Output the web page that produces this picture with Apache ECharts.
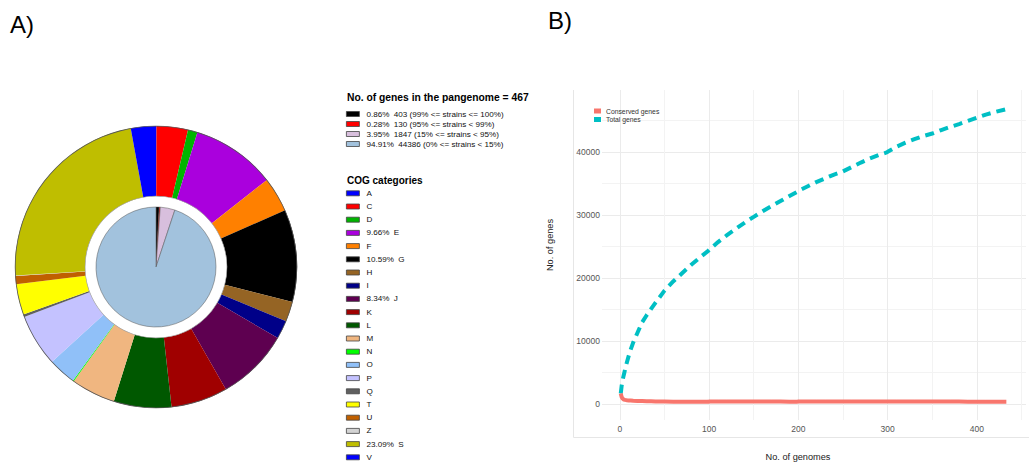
<!DOCTYPE html>
<html>
<head>
<meta charset="utf-8">
<script src="https://cdn.jsdelivr.net/npm/echarts@6/dist/echarts.min.js"></script>
<style>
  html, body { margin: 0; padding: 0; background: #ffffff; }
  #chart { width: 1029px; height: 466px; }
</style>
</head>
<body>
<div id="chart"></div>
<script>
// ---- Panel A: pangenome partitions (inner pie) and COG categories (outer ring)
const partitionBands = ['(99% <= strains <= 100%)', '(95% <= strains < 99%)', '(15% <= strains < 95%)', '(0% <= strains < 15%)'];
const partitionCounts = [403, 130, 1847, 44386];
const partitionColors = ['#000000', '#FF0000', '#D8BFDD', '#A2C2DD'];

const cogCategories = ['A', 'C', 'D', 'E', 'F', 'G', 'H', 'I', 'J', 'K', 'L', 'M', 'N', 'O', 'P', 'Q', 'T', 'U', 'Z', 'S', 'V'];
const cogPercent = [0.05, 3.6, 1.1, 9.66, 4.0, 10.59, 2.3, 2.1, 8.34, 6.5, 6.6, 5.1, 0.1, 3.2, 6.0, 0.3, 3.5, 0.95, 0.05, 23.09, 2.87];
const cogColors = ['#0000FF', '#FF0000', '#00B400', '#AA00DD', '#FF8000', '#000000', '#956424', '#000088', '#5E0050',
  '#A00000', '#005800', '#F0B680', '#00FF00', '#90C0F8', '#C4C2FF', '#606060', '#FFFF00', '#C06000', '#D3D3D3', '#BFBE00', '#0000FF'];

// ---- Panel B: pangenome accumulation curves
const genomeCounts = [1, 2, 3, 4, 5, 6, 8, 10, 12, 15, 20, 25, 30, 35, 40, 50, 60, 70, 80, 90, 99, 100, 110, 120, 130, 140,
  150, 160, 170, 180, 190, 199, 200, 210, 220, 230, 240, 250, 260, 270, 280, 290, 299, 300, 310, 320, 330, 340, 350, 360,
  370, 380, 390, 400, 410, 420, 433];
const totalGenes = [1700, 2900, 3700, 4400, 5000, 5600, 6700, 7700, 8600, 9800, 11400, 13000, 14100, 15100, 16100, 18000,
  19500, 20800, 22100, 23300, 24300, 24450, 25700, 26800, 27800, 28800, 29700, 30600, 31400, 32200, 33000, 33700, 33800,
  34500, 35200, 35800, 36400, 36900, 37600, 38300, 38950, 39500, 39900, 40000, 40800, 41450, 42000, 42500, 42900, 43450,
  43950, 44400, 44900, 45400, 45900, 46300, 46766];
const conservedGenes = [1700, 1150, 900, 780, 720, 690, 640, 600, 580, 550, 520, 500, 480, 465, 450, 430, 410, 400, 390, 380,
  375, 430, 428, 426, 424, 422, 420, 418, 416, 414, 412, 410, 440, 438, 436, 434, 432, 430, 428, 426, 424, 420, 415, 430,
  428, 426, 424, 422, 420, 418, 416, 414, 412, 410, 408, 406, 403];
const xTickLabels = [0, 100, 200, 300, 400];
const yTickLabels = [0, 10000, 20000, 30000, 40000];

const partitionTotal = partitionCounts.reduce((a, b) => a + b, 0);
const fontFamily = '"Liberation Sans", Arial, sans-serif';

const innerData = partitionBands.map((band, i) => ({
  name: band, value: partitionCounts[i], itemStyle: { color: partitionColors[i] }
}));
const cogData = cogCategories.map((c, i) => ({
  name: c, value: cogPercent[i], itemStyle: { color: cogColors[i] }
}));

const pairs = (ys) => genomeCounts.map((g, i) => [g, ys[i]]);
const none = 'rgba(0,0,0,0)';
const major = '#EBEBEB';
const minor = '#F3F3F3';

const chart = echarts.init(document.getElementById('chart'), null, { renderer: 'svg' });

chart.setOption({
  animation: false,
  backgroundColor: '#ffffff',
  textStyle: { fontFamily: fontFamily },
  grid: { left: 602, right: 1, top: 90, bottom: 46 },
  xAxis: {
    type: 'value', min: -20, max: 455, interval: 10,
    axisLine: { show: false }, axisTick: { show: false },
    axisLabel: {
      margin: 4, fontSize: 8.5, color: '#555555', fontFamily: fontFamily,
      formatter: v => (xTickLabels.indexOf(Math.round(v)) >= 0 ? String(Math.round(v)) : '')
    },
    splitLine: {
      show: true, showMaxLine: false,
      lineStyle: { width: 1, color: [none, none, major, none, none, none, none, minor, none, none] }
    }
  },
  yAxis: {
    type: 'value', min: -2500, max: 49800, interval: 2500,
    axisLine: { show: false }, axisTick: { show: false },
    axisLabel: {
      margin: 2, fontSize: 8.5, color: '#555555', fontFamily: fontFamily,
      formatter: v => (yTickLabels.indexOf(Math.round(v)) >= 0 ? String(Math.round(v)) : '')
    },
    splitLine: {
      show: true, showMaxLine: false,
      lineStyle: { width: 1, color: [none, major, none, minor] }
    }
  },
  legend: [
    {
      data: partitionBands, orient: 'vertical', left: 346, top: 109, padding: 0,
      icon: 'rect', itemWidth: 13, itemHeight: 5, itemGap: 0, selectedMode: false,
      itemStyle: { borderColor: '#444444', borderWidth: 0.8 },
      textStyle: { fontSize: 8.1, lineHeight: 10, color: '#111111', fontFamily: fontFamily, padding: [0, 0, 0, 2] },
      formatter: name => {
        const i = partitionBands.indexOf(name);
        const pct = (partitionCounts[i] / partitionTotal * 100).toFixed(2);
        return pct + '%  ' + partitionCounts[i] + ' ' + name;
      }
    },
    {
      data: cogCategories, orient: 'vertical', left: 346, top: 188.3, padding: 0, height: 277,
      icon: 'rect', itemWidth: 13, itemHeight: 5, itemGap: 3.2, selectedMode: false,
      itemStyle: { borderColor: '#444444', borderWidth: 0.8 },
      textStyle: { fontSize: 8.1, lineHeight: 10, color: '#111111', fontFamily: fontFamily, padding: [0, 0, 0, 2] },
      formatter: name => {
        const v = cogPercent[cogCategories.indexOf(name)];
        return v > 8 ? v.toFixed(2) + '%  ' + name : name;
      }
    },
    {
      data: ['Conserved genes', 'Total genes'], orient: 'vertical', left: 594, top: 107, padding: 0,
      icon: 'rect', itemWidth: 7, itemHeight: 5, itemGap: 0.5, selectedMode: false,
      itemStyle: { borderWidth: 0 },
      textStyle: { fontSize: 6.8, lineHeight: 8, color: '#333333', fontFamily: fontFamily }
    }
  ],
  series: [
    {
      name: 'Partition', type: 'pie', center: [156, 267], radius: [0, 60],
      startAngle: 90, clockwise: true, silent: true, emphasis: { disabled: true },
      label: { show: false }, labelLine: { show: false },
      itemStyle: { borderColor: '#555555', borderWidth: 0.5 },
      data: innerData
    },
    {
      name: 'COG', type: 'pie', center: [156, 267], radius: [71, 141],
      startAngle: 90, clockwise: true, silent: true, emphasis: { disabled: true },
      label: { show: false }, labelLine: { show: false },
      itemStyle: { borderWidth: 0 },
      data: cogData
    },
    {
      name: 'ring-outline', type: 'pie', center: [156, 267], radius: [140.4, 141.2],
      silent: true, emphasis: { disabled: true }, label: { show: false }, labelLine: { show: false },
      itemStyle: { color: '#555555', borderWidth: 0 },
      data: [{ value: 1, name: '' }]
    },
    {
      name: 'ring-inner-outline', type: 'pie', center: [156, 267], radius: [70.6, 71.2],
      silent: true, emphasis: { disabled: true }, label: { show: false }, labelLine: { show: false },
      itemStyle: { color: '#999999', borderWidth: 0 },
      data: [{ value: 1, name: '' }]
    },
    {
      name: 'Total genes', type: 'line', data: pairs(totalGenes),
      showSymbol: false, symbol: 'none', silent: true,
      itemStyle: { color: '#00BFC4' },
      lineStyle: { color: '#00BFC4', width: 4, type: [9, 6], cap: 'butt' }
    },
    {
      name: 'Conserved genes', type: 'line', data: pairs(conservedGenes),
      showSymbol: false, symbol: 'none', silent: true,
      itemStyle: { color: '#F8766D' },
      lineStyle: { color: '#F8766D', width: 4 }
    }
  ],
  graphic: [
    { type: 'text', left: 10, top: 12, style: { text: 'A)', font: '24px ' + fontFamily, fill: '#000000' } },
    { type: 'text', left: 548, top: 8, style: { text: 'B)', font: '24px ' + fontFamily, fill: '#000000' } },
    {
      type: 'text', x: 347, y: 97,
      style: {
        text: 'No. of genes in the pangenome = ' + partitionTotal,
        font: 'bold 10.3px ' + fontFamily, fill: '#000000', verticalAlign: 'middle',
        width: 185, overflow: 'truncate', ellipsis: ''
      }
    },
    {
      type: 'text', x: 347, y: 180,
      style: { text: 'COG categories', font: 'bold 10px ' + fontFamily, fill: '#000000', verticalAlign: 'middle' }
    },
    {
      type: 'text', x: 798, y: 457,
      style: { text: 'No. of genomes', font: '9.2px ' + fontFamily, fill: '#222222', align: 'center', verticalAlign: 'middle' }
    },
    {
      type: 'text', x: 550, y: 245, rotation: Math.PI / 2,
      style: { text: 'No. of genes', font: '9.2px ' + fontFamily, fill: '#222222', align: 'center', verticalAlign: 'middle' }
    },
    { type: 'line', shape: { x1: 573.5, y1: 90, x2: 573.5, y2: 437.5 }, style: { stroke: '#E6E6E6', lineWidth: 1 } },
    { type: 'line', shape: { x1: 573.5, y1: 437.5, x2: 1029, y2: 437.5 }, style: { stroke: '#E6E6E6', lineWidth: 1 } }
  ]
});
</script>
</body>
</html>
